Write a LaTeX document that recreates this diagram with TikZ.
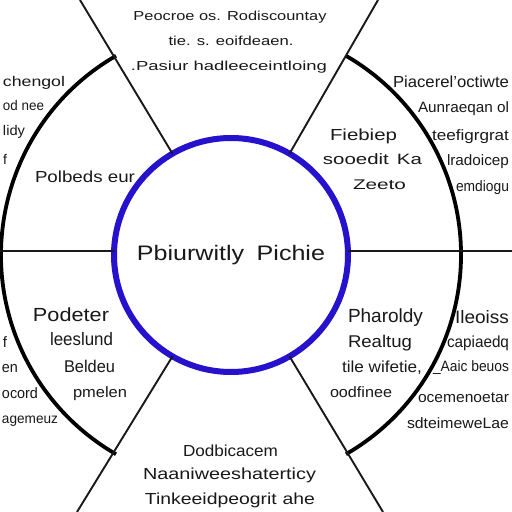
\documentclass[tikz,border=0pt]{standalone}
\usepackage{fontspec}
\setmainfont{Liberation Sans}
\usepackage{graphicx}
\newcommand{\fs}[1]{\fontsize{#1}{#1}\selectfont}
\newcommand{\fw}[2]{\resizebox{#1pt}{\height}{#2}}
\definecolor{ink}{RGB}{25,25,25}
\definecolor{hubblue}{RGB}{38,18,205}
\tikzset{
  lab/.style={inner sep=0pt, outer sep=0pt, text=ink, anchor=base},
  labw/.style={lab, anchor=base west},
  labe/.style={lab, anchor=base east},
  spoke/.style={line width=1.9pt, draw=ink},
  rim/.style={line width=3.8pt, draw=black},
  hubstyle/.style={circle, draw=hubblue, line width=6pt, minimum size=234pt, inner sep=0pt, outer sep=0pt, text=ink}
}
\begin{document}
\begin{tikzpicture}[x=1pt,y=1pt]
\useasboundingbox (0,0) rectangle (512,512);
\clip (0,0) rectangle (512,512);
\fill[white] (0,0) rectangle (512,512);

% spokes and rim
\coordinate (TL) at (80,512);
\coordinate (BL) at (77,0);
\coordinate (BR) at (383,0);
\coordinate (TR) at (378,512);
\coordinate (HL) at (0,261);
\coordinate (HR) at (512,261);
\coordinate (C) at (231,257);

\draw[rim] (C) ++(-60:230) arc[start angle=-60, end angle=60, radius=230];
\draw[rim] (C) ++(120:230) arc[start angle=120, end angle=240, radius=230];

\node[hubstyle] (hub) at (C) {\fs{21}\fw{188}{Pbiurwitly\hspace{0.5em}Pichie}};

\draw[spoke] (hub.120) -- (TL);
\draw[spoke] (hub.240) -- (BL);
\draw[spoke] (hub.-60) -- (BR);
\draw[spoke] (hub.60) -- (TR);
\draw[spoke] (HL) -- (hub.west |- HL);
\draw[spoke] (HR) -- (hub.east |- HR);

% top sector
\node[lab, font=\fs{13}] (t1) at (230,491) {\fw{193}{Peocroe os. Rodiscountay}};
\node[lab, font=\fs{13}] (t2) at (231,466) {\fw{125}{tie. s. eoifdeaen.}};
\node[lab, font=\fs{13}] (t3) at (229,441) {\fw{196}{.Pasiur hadleeceintloing}};

% left outer upper
\node[labe, font=\fs{14}] (lo1) at (65,425) {\fw{62}{chengol}};
\node[labe, font=\fs{14}] (lo2) at (44,401) {\fw{41}{od nee}};
\node[labe, font=\fs{14}] (lo3) at (25,376) {\fw{22}{lidy}};
\node[labe, font=\fs{14}] (lo4) at (7,347) {f};

% left inner upper
\node[lab, font=\fs{16}] (li1) at (85,329) {\fw{100}{Polbeds eur}};

% right inner upper
\node[lab, font=\fs{16}] (ri1) at (363.5,371) {\fw{67}{Fiebiep}};
\node[lab, font=\fs{15}] (ri2) at (372.5,347) {\fw{99}{sooedit\hspace{0.4em}Ka}};
\node[lab, font=\fs{14}] (ri3) at (379.5,322) {\fw{53}{Zeeto}};

% right outer upper
\node[labw, font=\fs{16}] (ro1) at (393,424) {\fw{116}{Piacerel'octiwte}};
\node[labw, font=\fs{15}] (ro2) at (418,399) {\fw{91}{Aunraeqan ol}};
\node[labw, font=\fs{15}] (ro3) at (432,371) {\fw{77}{teefigrgrat}};
\node[labw, font=\fs{15}] (ro4) at (447,346) {\fw{62}{lradoicep}};
\node[labw, font=\fs{15}] (ro5) at (456,320) {\fw{53}{emdiogu}};

% left inner lower
\node[lab, font=\fs{19}] (ll1) at (71,190) {\fw{76}{Podeter}};
\node[lab, font=\fs{18}] (ll2) at (81.5,166) {\fw{63}{leeslund}};
\node[lab, font=\fs{17}] (ll3) at (89.5,139) {\fw{51}{Beldeu}};
\node[lab, font=\fs{15}] (ll4) at (100,114) {\fw{54}{pmelen}};

% left outer lower
\node[labe, font=\fs{15}] (llo1) at (7,164) {f};
\node[labe, font=\fs{15}] (llo2) at (18,139) {\fw{16}{en}};
\node[labe, font=\fs{15}] (llo3) at (38,113) {\fw{36}{ocord}};
\node[labe, font=\fs{14}] (llo4) at (58,88) {\fw{56}{agemeuz}};

% right inner lower
\node[lab, font=\fs{19}] (rl1) at (385.5,189) {\fw{75}{Pharoldy}};
\node[lab, font=\fs{17}] (rl2) at (380,164) {\fw{64}{Realtug}};
\node[lab, font=\fs{16}] (rl3) at (382,139) {\fw{80}{tile wifetie,}};
\node[lab, font=\fs{15}] (rl4) at (361,114) {\fw{62}{oodfinee}};

% right outer lower
\node[labw, font=\fs{18}] (rlo1) at (455,188) {\fw{54}{Ileoiss}};
\node[labw, font=\fs{16}] (rlo2) at (447,164) {\fw{62}{capiaedq}};
\node[labw, font=\fs{15}] (rlo3) at (433,140) {\fw{76}{\_Aaic beuos}};
\node[labw, font=\fs{15}] (rlo4) at (418,109) {\fw{91}{ocemenoetar}};
\node[labw, font=\fs{15}] (rlo5) at (407,83) {\fw{102}{sdteimeweLae}};

% bottom sector
\node[lab, font=\fs{16}] (b1) at (230.5,56) {\fw{95}{Dodbicacem}};
\node[lab, font=\fs{16}] (b2) at (229.5,32) {\fw{173}{Naaniweeshaterticy}};
\node[lab, font=\fs{16}] (b3) at (230,8) {\fw{170}{Tinkeeidpeogrit\hspace{0.3em}ahe}};
\end{tikzpicture}
\end{document}
